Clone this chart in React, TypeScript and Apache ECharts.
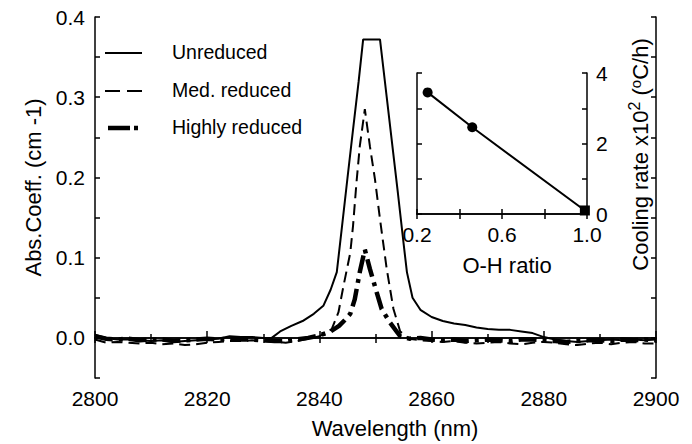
import React, { useEffect, useRef } from "react";
import * as echarts from "echarts";

// ---- Main spectra data ----
const unreducedX = [2800, 2802, 2804, 2806, 2808, 2810, 2812, 2814, 2816, 2818, 2820, 2822, 2824, 2826, 2828, 2830, 2831.5, 2833, 2835, 2837, 2839, 2840.7, 2842, 2843.1, 2844, 2845, 2846, 2847, 2847.8, 2849, 2850.8, 2852, 2853, 2854, 2855, 2855.6, 2856.6, 2858, 2860, 2862, 2864, 2866, 2868, 2870, 2872, 2874, 2876, 2878, 2880, 2882, 2884, 2886, 2888, 2890, 2892, 2894, 2896, 2898, 2900];
const unreducedY = [0.004, 0.0, -0.002, -0.002, -0.003, -0.004, -0.003, -0.005, -0.004, -0.003, -0.002, -0.001, 0.002, 0.001, 0.001, 0.0, 0.0, 0.008, 0.015, 0.021, 0.03, 0.04, 0.06, 0.082, 0.137, 0.199, 0.26, 0.32, 0.372, 0.372, 0.372, 0.3, 0.24, 0.18, 0.118, 0.082, 0.05, 0.035, 0.026, 0.021, 0.018, 0.016, 0.013, 0.011, 0.01, 0.01, 0.008, 0.006, 0.001, -0.002, -0.004, -0.005, -0.004, -0.003, -0.002, -0.003, -0.002, -0.003, -0.002];

const medX = [2800, 2802, 2804, 2806, 2808, 2810, 2812, 2814, 2816, 2818, 2820, 2822, 2824, 2826, 2828, 2830, 2832, 2834, 2836, 2838, 2840, 2841, 2842.2, 2843.4, 2844.3, 2845.5, 2846, 2846.6, 2847.2, 2848.1, 2849, 2849.9, 2850.8, 2852, 2853.2, 2854.4, 2856, 2858, 2860, 2862, 2864, 2866, 2868, 2870, 2872, 2874, 2876, 2878, 2880, 2882, 2884, 2886, 2888, 2890, 2892, 2894, 2896, 2898, 2900];
const medY = [-0.002, -0.006, -0.005, -0.006, -0.007, -0.006, -0.008, -0.007, -0.009, -0.008, -0.006, -0.005, -0.004, -0.004, -0.003, -0.004, -0.005, -0.006, -0.004, -0.001, 0.002, 0.006, 0.011, 0.032, 0.065, 0.106, 0.14, 0.193, 0.239, 0.285, 0.239, 0.198, 0.148, 0.086, 0.036, 0.008, -0.001, -0.003, -0.004, -0.005, -0.004, -0.006, -0.007, -0.006, -0.005, -0.007, -0.008, -0.006, -0.005, -0.006, -0.008, -0.009, -0.007, -0.006, -0.008, -0.006, -0.005, -0.007, -0.007];

const highX = [2800, 2802, 2804, 2806, 2808, 2810, 2812, 2814, 2816, 2818, 2820, 2822, 2824, 2826, 2828, 2830, 2832, 2834, 2836, 2838, 2840, 2842, 2843.5, 2844.5, 2845.5, 2846.3, 2847.2, 2848.1, 2849, 2850.2, 2851.1, 2852.6, 2854.4, 2856, 2858, 2860, 2862, 2864, 2866, 2868, 2870, 2872, 2874, 2876, 2878, 2880, 2882, 2884, 2886, 2888, 2890, 2892, 2894, 2896, 2898, 2900];
const highY = [0.002, -0.001, -0.002, -0.001, -0.003, -0.002, -0.002, -0.004, -0.003, -0.002, -0.001, -0.002, -0.001, -0.002, -0.002, -0.003, -0.004, -0.004, -0.002, 0.0, 0.003, 0.008, 0.015, 0.022, 0.03, 0.048, 0.082, 0.11, 0.086, 0.057, 0.036, 0.019, 0.002, -0.001, 0.0, -0.002, -0.003, -0.002, -0.004, -0.003, -0.002, -0.003, -0.004, -0.002, -0.002, -0.003, -0.004, -0.005, -0.004, -0.003, -0.003, -0.004, -0.002, -0.003, -0.002, -0.003];

// ---- Inset data ----
const ohRatio = [0.25, 0.46, 0.99];
const coolingRate = [3.45, 2.46, 0.1];
const insetSymbols = ["circle", "circle", "rect"];

const seriesNames = ["Unreduced", "Med. reduced", "Highly reduced"];

const FONT = "Liberation Sans, Arial, Helvetica, sans-serif";

const pairs = (xs: number[], ys: number[]) => xs.map((x, i) => [x, ys[i]]);

const unreducedStyle = { color: "#000", width: 2, type: "solid" as any };
const medStyle = { color: "#000", width: 2, type: [11, 6] as any };
const highStyle = { color: "#000", width: 4.5, type: [18, 6, 4, 6] as any };

export default function App() {
  const ref = useRef<HTMLDivElement>(null);
  useEffect(() => {
    if (!ref.current) return;
    const chart = echarts.init(ref.current, undefined, { renderer: "svg" });
    const axisLine = { show: true, lineStyle: { color: "#000", width: 1.5 } };
    const tickInside = (len: number) => ({ show: true, inside: true, length: len, lineStyle: { color: "#000", width: 1.5 } });

    // legend drawn as graphic (line sample + text)
    const legendRows = [
      { name: seriesNames[0], y: 53, x1: 105, x2: 142, style: { stroke: "#000", lineWidth: 2 } },
      { name: seriesNames[1], y: 91, x1: 105, x2: 142, style: { stroke: "#000", lineWidth: 2, lineDash: [15, 7] } },
      { name: seriesNames[2], y: 128, x1: 108, x2: 138, style: { stroke: "#000", lineWidth: 4.5, lineDash: [22, 4, 4, 20] } },
    ];
    const legendGraphics: any[] = [];
    legendRows.forEach((r) => {
      legendGraphics.push({ type: "line", shape: { x1: r.x1, y1: r.y, x2: r.x2, y2: r.y }, style: r.style, silent: true });
      legendGraphics.push({
        type: "text", left: 172, top: r.y - 11,
        style: { text: r.name, fontFamily: FONT, fontSize: 19.5, fill: "#000" },
      });
    });

    const option: any = {
      animation: false,
      backgroundColor: "#fff",
      textStyle: { fontFamily: FONT, color: "#000" },
      graphic: legendGraphics,
      grid: [
        { left: 95, top: 17, right: 36, bottom: 65, show: false },
        { left: 417, top: 73, width: 170, height: 141, show: false },
      ],
      xAxis: [
        {
          type: "value", gridIndex: 0, position: "bottom", min: 2800, max: 2900, interval: 20,
          axisLine, axisTick: tickInside(7),
          minorTick: { show: true, splitNumber: 2, length: 4, lineStyle: { color: "#000", width: 1.5 } },
          splitLine: { show: false }, minorSplitLine: { show: false },
          axisLabel: { fontFamily: FONT, fontSize: 21, color: "#000", margin: 10, formatter: (v: number) => String(v) },
          name: "Wavelength (nm)", nameLocation: "middle", nameGap: 39,
          nameTextStyle: { fontFamily: FONT, fontSize: 22, color: "#000", padding: [0, 0, 0, 39] },
        },
        {
          type: "value", gridIndex: 0, position: "top", min: 2800, max: 2900, interval: 10,
          axisLine, axisTick: tickInside(5), axisLabel: { show: false }, splitLine: { show: false },
        },
        {
          type: "value", gridIndex: 1, position: "bottom", min: 0.2, max: 1.0, interval: 0.2,
          axisLine, axisTick: tickInside(5), splitLine: { show: false },
          axisLabel: {
            fontFamily: FONT, fontSize: 21, color: "#000", margin: 10,
            formatter: (v: number) => (Math.round(v * 10) % 4 === 2 ? v.toFixed(1) : ""),
          },
          name: "O-H ratio", nameLocation: "middle", nameGap: 40,
          nameTextStyle: { fontFamily: FONT, fontSize: 22, color: "#000", padding: [0, 0, 0, 10] },
        },
        {
          type: "value", gridIndex: 1, position: "top", min: 0.2, max: 1.0, interval: 0.2,
          axisLine, axisTick: tickInside(5), axisLabel: { show: false }, splitLine: { show: false },
        },
      ],
      yAxis: [
        {
          type: "value", gridIndex: 0, position: "left", min: -0.05, max: 0.4, interval: 0.05,
          axisLine, axisTick: tickInside(5), splitLine: { show: false },
          axisLabel: {
            fontFamily: FONT, fontSize: 21, color: "#000", margin: 10,
            formatter: (v: number) => {
              const k = Math.round(v * 100);
              return k % 10 === 0 ? (k / 100).toFixed(1) : "";
            },
          },
          name: "Abs.Coeff. (cm -1)", nameLocation: "middle", nameGap: 51, nameRotate: 90,
          nameTextStyle: { fontFamily: FONT, fontSize: 22, color: "#000", padding: [0, 0, 0, 20] },
        },
        {
          type: "value", gridIndex: 0, position: "right", min: -0.05, max: 0.4, interval: 0.05,
          axisLine, axisTick: tickInside(5), axisLabel: { show: false }, splitLine: { show: false },
        },
        {
          type: "value", gridIndex: 1, position: "left", min: 0, max: 4, interval: 1,
          axisLine, axisTick: tickInside(5), axisLabel: { show: false }, splitLine: { show: false },
        },
        {
          type: "value", gridIndex: 1, position: "right", min: 0, max: 4, interval: 1,
          axisLine, axisTick: tickInside(5), splitLine: { show: false },
          axisLabel: {
            fontFamily: FONT, fontSize: 21, color: "#000", margin: 9,
            formatter: (v: number) => (Math.round(v) % 2 === 0 ? String(Math.round(v)) : ""),
          },
          name: "Cooling rate x10{sup|2} ({sup2|o}C/h)", nameLocation: "middle", nameGap: 39, nameRotate: 90,
          nameTextStyle: {
            fontFamily: FONT, fontSize: 22, color: "#000", padding: [0, 22, 0, 0],
            rich: {
              sup: { fontFamily: FONT, fontSize: 16, color: "#000", padding: [0, 0, 12, 0] },
              sup2: { fontFamily: FONT, fontSize: 15, color: "#000", padding: [0, 0, 9, 0] },
            },
          },
        },
      ],
      series: [
        {
          name: seriesNames[0], type: "line", xAxisIndex: 0, yAxisIndex: 0,
          data: pairs(unreducedX, unreducedY), symbol: "none", lineStyle: unreducedStyle,
        },
        {
          name: seriesNames[1], type: "line", xAxisIndex: 0, yAxisIndex: 0,
          data: pairs(medX, medY), symbol: "none", lineStyle: medStyle,
        },
        {
          name: seriesNames[2], type: "line", xAxisIndex: 0, yAxisIndex: 0,
          data: pairs(highX, highY), symbol: "none", lineStyle: highStyle,
        },
        {
          type: "line", xAxisIndex: 2, yAxisIndex: 3,
          data: ohRatio.map((x, i) => ({ value: [x, coolingRate[i]], symbol: insetSymbols[i] })),
          symbolSize: 10,
          lineStyle: { color: "#000", width: 2 }, itemStyle: { color: "#000" },
        },
      ],
    };
    chart.setOption(option);
    return () => chart.dispose();
  }, []);
  return <div ref={ref} style={{ position: "absolute", left: 0, top: 0, width: 692, height: 444 }} />;
}
